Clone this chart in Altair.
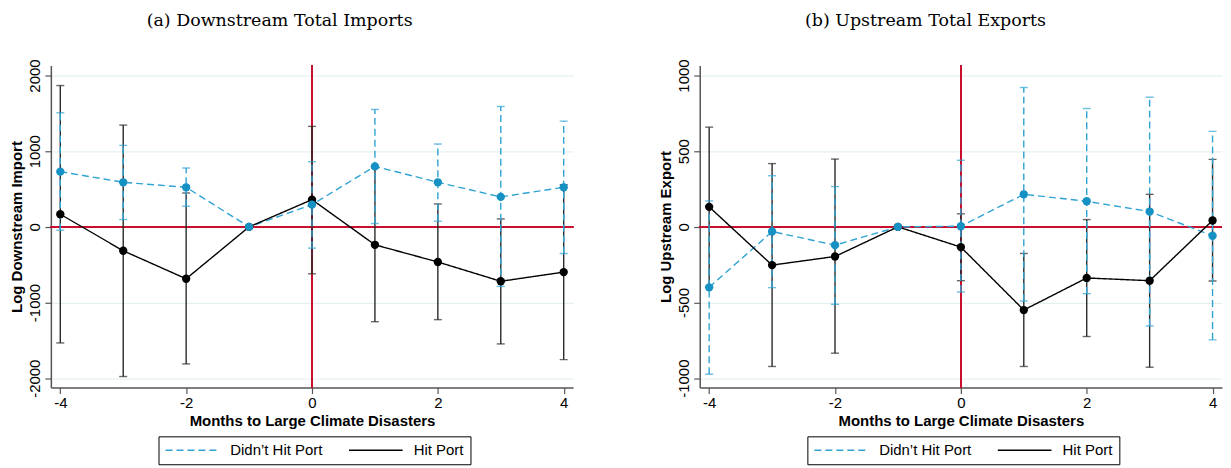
import altair as alt
import pandas as pd

months = [-4, -3, -2, -1, 0, 1, 2, 3, 4]
groups = ["Didn\u2019t Hit Port", "Hit Port"]

# (a) Downstream Total Imports
imp_hit_est = [167, -316, -686, 0, 360, -237, -464, -719, -598]
imp_hit_lo = [-1534, -1978, -1811, None, -620, -1253, -1226, -1547, -1754]
imp_hit_hi = [1868, 1345, 448, None, 1328, 779, 303, 105, 558]
imp_miss_est = [730, 589, 523, 0, 294, 800, 589, 396, 523]
imp_miss_lo = [-44, 97, 273, None, -281, 44, 75, -787, -352]
imp_miss_hi = [1508, 1077, 778, None, 862, 1552, 1095, 1591, 1398]

# (b) Upstream Total Exports
exp_hit_est = [132, -253, -196, 0, -134, -550, -338, -356, 42]
exp_hit_lo = [-395, -923, -835, None, -356, -923, -725, -928, -358]
exp_hit_hi = [659, 418, 448, None, 86, -176, 48, 215, 446]
exp_miss_est = [-400, -31, -121, 0, 4, 215, 169, 101, -59]
exp_miss_lo = [-974, -402, -512, None, -431, -490, -442, -655, -747]
exp_miss_hi = [171, 338, 266, None, 440, 921, 782, 857, 631]

BLUE = "#1591c4"
BLUE_BAR = "#2fa3d3"
BLACK = "#000000"
BAR_BLACK = "#2a2a2a"
RED = "#c8102e"


def frame(miss_est, miss_lo, miss_hi, hit_est, hit_lo, hit_hi):
    rows = []
    for i, m in enumerate(months):
        rows.append({"month": m, "group": groups[0], "est": miss_est[i],
                     "lo": miss_lo[i], "hi": miss_hi[i]})
        rows.append({"month": m, "group": groups[1], "est": hit_est[i],
                     "lo": hit_lo[i], "hi": hit_hi[i]})
    return pd.DataFrame(rows)


def panel(df, title, ytitle, ydomain, yvalues, dx):
    x = alt.X("month:Q", scale=alt.Scale(domain=[-4.15, 4.15], nice=False, zero=False),
              axis=alt.Axis(values=[-4, -2, 0, 2, 4], labelExpr="'' + datum.value", grid=False,
                            title="Months to Large Climate Disasters"))
    yax = alt.Axis(values=yvalues, labelExpr="'' + datum.value", title=ytitle, grid=True)
    yscale = alt.Scale(domain=ydomain, nice=False, zero=False)
    base = alt.Chart(df)

    hzero = base.mark_rule(color=RED, strokeWidth=1.2).encode(y=alt.datum(0, scale=yscale, axis=yax))
    vzero = base.mark_rule(color=RED, strokeWidth=1.2).encode(x=alt.datum(0))

    def bars(gname, color, dash):
        d = base.transform_filter(alt.datum.group == gname).transform_filter("isValid(datum.lo)")
        kw = {"strokeDash": dash} if dash else {}
        rule = d.mark_rule(color=color, strokeWidth=1.4, **kw).encode(
            x=x, y=alt.Y("lo:Q", scale=yscale, axis=yax), y2="hi:Q")
        cap_lo = d.mark_tick(color=color, orient="horizontal", size=8, thickness=1.4).encode(
            x=x, y=alt.Y("lo:Q", scale=yscale, axis=yax))
        cap_hi = d.mark_tick(color=color, orient="horizontal", size=8, thickness=1.4).encode(
            x=x, y=alt.Y("hi:Q", scale=yscale, axis=yax))
        return [rule, cap_lo, cap_hi]

    legend = alt.Legend(orient="none", legendX=108, legendY=372, direction="horizontal",
                        title=None, strokeColor="black", padding=6, symbolType="stroke",
                        symbolSize=2900, symbolStrokeWidth=1.4, clipHeight=16, labelFontSize=15,
                        labelFont="Liberation Sans", labelColor="black", labelOffset=10,
                        columnPadding=25, fillColor="white")
    lines = base.mark_line(strokeWidth=1.4).encode(
        x=x, y=alt.Y("est:Q", scale=yscale, axis=yax),
        color=alt.Color("group:N", scale=alt.Scale(domain=groups, range=[BLUE_BAR, BLACK]),
                        legend=legend),
        strokeDash=alt.StrokeDash("group:N", scale=alt.Scale(domain=groups, range=[[7, 4], [1, 0]]),
                                  legend=legend),
    )

    def pts(gname, color):
        return base.transform_filter(alt.datum.group == gname).mark_circle(
            size=70, color=color, opacity=1).encode(x=x, y=alt.Y("est:Q", scale=yscale, axis=yax))

    layers = [hzero, vzero] + bars(groups[1], BAR_BLACK, None) + bars(groups[0], BLUE_BAR, [7, 4]) \
        + [lines, pts(groups[1], BLACK), pts(groups[0], BLUE)]
    return alt.layer(*layers).properties(
        width=524, height=323,
        title=alt.TitleParams(title, font="DejaVu Serif", fontSize=17.5, fontWeight="normal",
                              anchor="middle", dx=dx, offset=30, color="black"),
    ).resolve_legend(color="shared", strokeDash="shared")


left = panel(frame(imp_miss_est, imp_miss_lo, imp_miss_hi, imp_hit_est, imp_hit_lo, imp_hit_hi),
             "(a) Downstream Total Imports", "Log Downstream Import", [-2123, 2132],
             [-2000, -1000, 0, 1000, 2000], -32.5)
right = panel(frame(exp_miss_est, exp_miss_lo, exp_miss_hi, exp_hit_est, exp_hit_lo, exp_hit_hi),
              "(b) Upstream Total Exports", "Log Upstream Export", [-1062, 1066],
              [-1000, -500, 0, 500, 1000], -35.5)

chart = alt.hconcat(left, right, spacing=84).resolve_scale(
    color="independent", strokeDash="independent"
).resolve_legend(color="independent", strokeDash="independent").properties(
    padding={"left": 2, "top": 2, "right": 0, "bottom": 0}
).configure_view(stroke=None).configure_axis(
    labelFont="Liberation Sans", labelFontSize=15, labelColor="black",
    titleFont="Liberation Sans", titleFontSize=15, titleFontWeight="bold", titleColor="black",
    domainColor="#555555", domainWidth=1.5, tickColor="#555555", tickSize=6, tickWidth=1.2,
    gridColor="#e6f0f1", gridWidth=1.2,
).configure_axisX(labelPadding=2, titlePadding=3).configure_axisY(
    labelAngle=270, labelAlign="center", labelBaseline="bottom", labelPadding=2, titlePadding=3
)

chart.save("out.html", embed_options={"renderer": "svg", "actions": False})
